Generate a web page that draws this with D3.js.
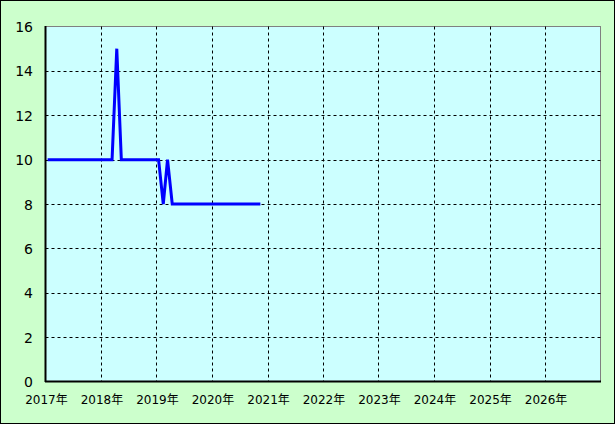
<!DOCTYPE html>
<meta charset="utf-8">
<style>
  body { margin: 0; }
  .ylab { font: 14px "DejaVu Sans", sans-serif; }
  .xlab { font: 12px "DejaVu Sans", "Noto Sans CJK JP", sans-serif; }
</style>
<script src="https://d3js.org/d3.v7.min.js"></script>
<div id="chart"></div>
<script>
  // monthly values, plotted at the middle of each month
  var startMonth = "2017-01";
  var values = [10, 10, 10, 10, 10, 10, 10, 10, 10, 10, 10, 10,   // 2017
                10, 10, 10, 15, 10, 10, 10, 10, 10, 10, 10, 10,   // 2018
                10, 8, 10, 8, 8, 8, 8, 8, 8, 8, 8, 8,             // 2019
                8, 8, 8, 8, 8, 8, 8, 8, 8, 8, 8];                 // 2020 (to Nov)
  var yearTicks = [2017, 2018, 2019, 2020, 2021, 2022, 2023, 2024, 2025, 2026];
  var yTicks = [0, 2, 4, 6, 8, 10, 12, 14, 16];

  var width = 615, height = 424;
  var pLeft = 45.5, pRight = 600.5, pTop = 26.5, pBottom = 381.5;

  var svg = d3.select("#chart").append("svg")
    .attr("width", width)
    .attr("height", height);

  svg.append("rect")
    .attr("x", 0.5).attr("y", 0.5)
    .attr("width", width - 1).attr("height", height - 1)
    .attr("fill", "#ccffcc")
    .attr("stroke", "#000");

  var x = d3.scaleTime()
    .domain([new Date(2017, 0, 1), new Date(2027, 0, 1)])
    .range([pLeft, pRight]);
  var y = d3.scaleLinear()
    .domain([0, 16])
    .range([pBottom, pTop]);

  svg.append("rect")
    .attr("x", pLeft).attr("y", pTop)
    .attr("width", pRight - pLeft).attr("height", pBottom - pTop)
    .attr("fill", "#ccffff")
    .attr("stroke", "#808080");

  // grid
  svg.selectAll(".hgrid")
    .data(yTicks.filter(function(d) { return d > 0 && d < 16; }))
    .enter().append("line")
      .attr("x1", pLeft).attr("x2", pRight)
      .attr("y1", function(d) { return Math.round(y(d)) + 0.5; })
      .attr("y2", function(d) { return Math.round(y(d)) + 0.5; })
      .attr("stroke", "#000")
      .attr("stroke-dasharray", "3,3");

  svg.selectAll(".vgrid")
    .data(yearTicks.slice(1))
    .enter().append("line")
      .attr("x1", function(d) { return Math.round(x(new Date(d, 0, 1))) + 0.5; })
      .attr("x2", function(d) { return Math.round(x(new Date(d, 0, 1))) + 0.5; })
      .attr("y1", pTop).attr("y2", pBottom)
      .attr("stroke", "#000")
      .attr("stroke-dasharray", "3,3");

  // axes lines
  svg.append("line")
    .attr("x1", pLeft).attr("x2", pLeft)
    .attr("y1", pTop - 0.5).attr("y2", pBottom + 0.5)
    .attr("stroke", "#000").attr("stroke-width", 2);
  svg.append("line")
    .attr("x1", pLeft - 0.5).attr("x2", pRight + 0.5)
    .attr("y1", pBottom).attr("y2", pBottom)
    .attr("stroke", "#000").attr("stroke-width", 2);

  // labels
  svg.selectAll(".ylab")
    .data(yTicks)
    .enter().append("text")
      .attr("class", "ylab")
      .attr("x", 33)
      .attr("y", function(d) { return y(d) + 5.5; })
      .attr("text-anchor", "end")
      .text(function(d) { return d; });

  svg.selectAll(".xlab")
    .data(yearTicks)
    .enter().append("text")
      .attr("class", "xlab")
      .attr("x", function(d) { return x(new Date(d, 0, 1)) + 1; })
      .attr("y", 404)
      .attr("text-anchor", "middle")
      .text(function(d) { return d + "年"; });

  // data line
  var parts = startMonth.split("-");
  var data = values.map(function(v, i) {
    return { date: new Date(+parts[0], +parts[1] - 1 + i, 15), value: v };
  });

  var line = d3.line()
    .x(function(d) { return x(d.date); })
    .y(function(d) { return y(d.value); });

  svg.append("path")
    .datum(data)
    .attr("d", line)
    .attr("fill", "none")
    .attr("stroke", "#0000ff")
    .attr("stroke-width", 3);
</script>
